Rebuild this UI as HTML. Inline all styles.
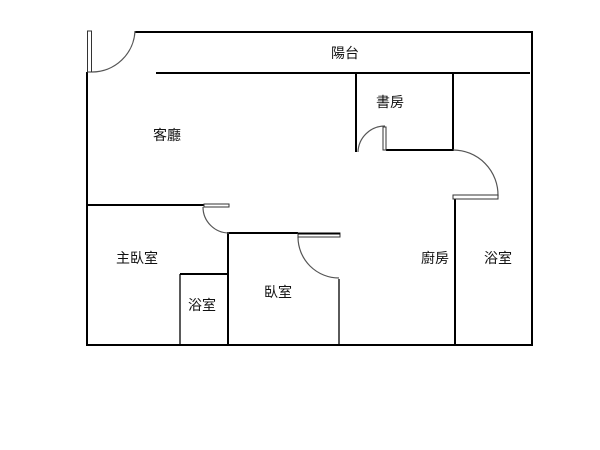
<!DOCTYPE html>
<html><head><meta charset="utf-8"><style>
html,body{margin:0;padding:0;background:#fff;width:600px;height:450px;overflow:hidden}
text{font-family:"Liberation Sans","Noto Sans CJK TC",sans-serif;font-size:14px;fill:#111}
</style></head><body>
<svg width="600" height="450" viewBox="0 0 600 450" xmlns="http://www.w3.org/2000/svg">
<g stroke="#000" stroke-width="2" fill="none">
<line x1="87" y1="72" x2="87" y2="346"/>
<line x1="135" y1="32" x2="533" y2="32"/>
<line x1="532" y1="31" x2="532" y2="346"/>
<line x1="86" y1="345" x2="533" y2="345"/>
<line x1="156" y1="73" x2="530" y2="73"/>
<line x1="356" y1="73" x2="356" y2="152"/>
<line x1="453" y1="73" x2="453" y2="151"/>
<line x1="386" y1="150" x2="454" y2="150"/>
<line x1="455" y1="198" x2="455" y2="346"/>
<line x1="87" y1="205" x2="204" y2="205"/>
<line x1="228" y1="233" x2="228" y2="346"/>
<line x1="227" y1="233" x2="298" y2="233"/>
<line x1="180" y1="274" x2="229" y2="274"/>
<line x1="180" y1="274" x2="180" y2="346" stroke-width="1.3"/>
<line x1="339" y1="279" x2="339" y2="345" stroke-width="1.3"/>
</g>
<g stroke="#555" stroke-width="1.2" fill="none">
<path d="M135 31 A43 43 0 0 1 92 72"/>
<path d="M358 152 A27 27 0 0 1 385 126"/>
<path d="M453 150 A45 45 0 0 1 498 196"/>
<path d="M203 207 A26 26 0 0 0 229 233"/>
<path d="M298 237 A41 41 0 0 0 339 278"/>
</g>
<g stroke="#333" stroke-width="1" fill="#fff">
<rect x="87.5" y="31" width="4" height="41"/>
<rect x="383" y="127" width="3" height="23"/>
<rect x="453" y="195" width="45" height="4"/>
<rect x="204" y="204" width="25" height="3"/>
<rect x="298" y="233" width="42" height="4"/>
</g>
<line x1="298" y1="233.5" x2="340" y2="233.5" stroke="#000" stroke-width="2"/>
<text x="345" y="58" text-anchor="middle">陽台</text>
<text x="390" y="107" text-anchor="middle">書房</text>
<text x="167" y="140" text-anchor="middle">客廳</text>
<text x="137" y="263" text-anchor="middle">主臥室</text>
<text x="202" y="310" text-anchor="middle">浴室</text>
<text x="278" y="297" text-anchor="middle">臥室</text>
<text x="435" y="263" text-anchor="middle">廚房</text>
<text x="498" y="263" text-anchor="middle">浴室</text>
</svg>
</body></html>
